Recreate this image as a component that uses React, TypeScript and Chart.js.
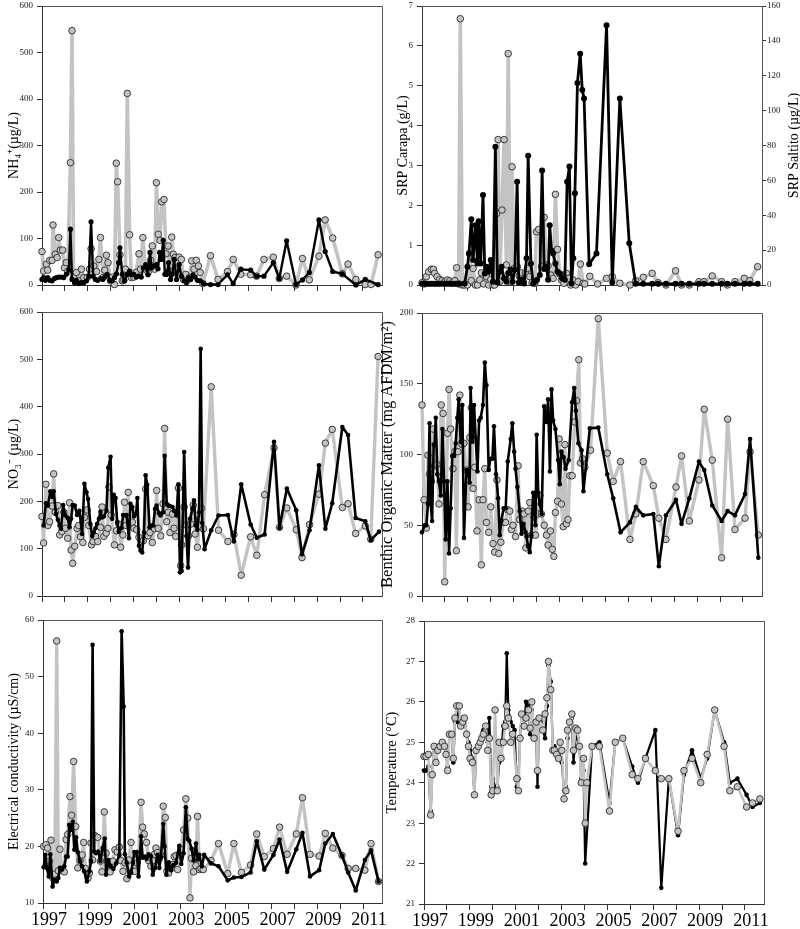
import React, { useEffect, useRef } from "react";
import { Chart, registerables } from "chart.js";
Chart.register(...registerables);

const FONT = "'Liberation Serif', 'Times New Roman', serif";

// ---------- axis ticks ----------
const yearTicks = [1997, 1998, 1999, 2000, 2001, 2002, 2003, 2004, 2005, 2006, 2007, 2008, 2009, 2010, 2011];
const xMin = 1997;
const xMax = 2011.83;
const nh4Ticks = [0, 100, 200, 300, 400, 500, 600];
const srpCarapaTicks = [0, 1, 2, 3, 4, 5, 6, 7];
const srpSaltitoTicks = [0, 20, 40, 60, 80, 100, 120, 140, 160];
const no3Ticks = [0, 100, 200, 300, 400, 500, 600];
const bomTicks = [0, 50, 100, 150, 200];
const ecTicks = [10, 20, 30, 40, 50, 60];
const tempTicks = [21, 22, 23, 24, 25, 26, 27, 28];

// ---------- data: [decimal year, value] ----------
const nh4Gray = [[1997.00,72],[1997.07,30],[1997.19,45],[1997.25,32],[1997.34,53],[1997.44,53],[1997.48,129],[1997.58,66],[1997.66,59],[1997.73,102],[1997.80,75],[1997.90,75],[1997.98,37],[1998.06,48],[1998.12,29],[1998.24,263],[1998.31,547],[1998.38,16],[1998.50,27],[1998.60,9],[1998.72,34],[1998.82,16],[1998.97,16],[1999.07,34],[1999.14,78],[1999.26,41],[1999.38,29],[1999.48,55],[1999.55,102],[1999.65,16],[1999.74,32],[1999.81,64],[1999.88,48],[1999.99,9],[2000.08,17],[2000.16,1],[2000.24,262],[2000.30,222],[2000.40,65],[2000.50,9],[2000.57,10],[2000.64,34],[2000.72,412],[2000.82,108],[2000.90,16],[2001.00,17],[2001.10,27],[2001.23,67],[2001.30,34],[2001.40,102],[2001.52,34],[2001.63,27],[2001.74,53],[2001.81,84],[2001.91,34],[2001.99,220],[2002.07,109],[2002.15,96],[2002.22,179],[2002.32,184],[2002.41,67],[2002.50,84],[2002.58,29],[2002.66,103],[2002.73,66],[2002.80,59],[2002.87,32],[2002.98,60],[2003.08,55],[2003.17,12],[2003.27,23],[2003.34,10],[2003.44,16],[2003.53,52],[2003.63,34],[2003.73,53],[2003.82,41],[2003.90,27],[2004.02,3],[2004.35,63],[2004.68,12],[2005.09,29],[2005.34,55],[2005.67,23],[2006.10,22],[2006.36,19],[2006.68,55],[2007.09,60],[2007.35,14],[2007.67,19],[2008.08,0],[2008.36,57],[2008.66,11],[2009.08,62],[2009.35,140],[2009.68,101],[2010.10,24],[2010.35,45],[2010.69,12],[2011.10,1],[2011.35,1],[2011.66,65]];
const nh4Black = [[1997.00,12],[1997.07,16],[1997.15,10],[1997.25,16],[1997.34,10],[1997.44,9],[1997.54,14],[1997.63,16],[1997.73,17],[1997.83,17],[1997.95,16],[1998.06,23],[1998.17,32],[1998.24,120],[1998.31,12],[1998.42,5],[1998.50,10],[1998.60,3],[1998.70,5],[1998.82,5],[1998.94,9],[1999.04,19],[1999.14,136],[1999.23,19],[1999.33,12],[1999.43,10],[1999.55,14],[1999.65,12],[1999.74,17],[1999.84,23],[1999.96,10],[2000.06,9],[2000.16,16],[2000.25,24],[2000.34,48],[2000.40,80],[2000.50,23],[2000.60,9],[2000.72,23],[2000.82,30],[2000.91,22],[2001.01,23],[2001.11,17],[2001.23,19],[2001.33,17],[2001.42,37],[2001.52,44],[2001.62,22],[2001.71,70],[2001.78,37],[2001.88,41],[2001.99,44],[2002.06,35],[2002.13,70],[2002.20,55],[2002.29,96],[2002.36,23],[2002.44,23],[2002.52,48],[2002.61,12],[2002.68,23],[2002.76,55],[2002.87,12],[2002.98,44],[2003.08,19],[2003.20,9],[2003.30,5],[2003.39,16],[2003.49,12],[2003.59,22],[2003.68,17],[2003.78,10],[2003.90,9],[2004.04,3],[2004.35,1],[2004.68,1],[2005.09,22],[2005.34,3],[2005.67,34],[2006.10,32],[2006.36,19],[2006.68,19],[2007.09,48],[2007.35,14],[2007.67,95],[2008.08,1],[2008.36,11],[2008.66,27],[2009.08,140],[2009.35,72],[2009.68,29],[2010.10,24],[2010.69,0],[2011.10,12],[2011.66,1]];

const srpCarapaBlack = [[1997.00,0.03],[1997.10,0.03],[1997.20,0.03],[1997.30,0.03],[1997.40,0.03],[1997.50,0.03],[1997.60,0.03],[1997.70,0.03],[1997.80,0.03],[1997.90,0.03],[1998.00,0.03],[1998.10,0.03],[1998.20,0.03],[1998.30,0.03],[1998.40,0.03],[1998.50,0.03],[1998.62,0.03],[1998.86,0.04],[1998.98,0.46],[1999.05,0.79],[1999.15,1.65],[1999.23,0.63],[1999.33,1.5],[1999.42,0.54],[1999.47,1.6],[1999.56,0.54],[1999.66,2.26],[1999.74,0.29],[1999.81,0.46],[1999.91,0.33],[2000.00,0.63],[2000.10,0.08],[2000.20,3.47],[2000.29,0.06],[2000.39,0.33],[2000.47,0.46],[2000.58,0.17],[2000.68,0.08],[2000.76,0.3],[2000.86,0.38],[2000.95,0.08],[2001.05,0.38],[2001.15,2.59],[2001.22,0.06],[2001.34,0.13],[2001.45,0.04],[2001.56,0.67],[2001.63,3.24],[2001.75,0.54],[2001.85,0.04],[2001.92,0.08],[2002.02,0.13],[2002.14,0.25],[2002.24,2.87],[2002.33,0.4],[2002.43,0.46],[2002.50,0.13],[2002.57,1.5],[2002.65,0.86],[2002.72,0.79],[2002.82,0.54],[2002.91,0.33],[2003.01,0.29],[2003.11,0.17],[2003.23,0.13],[2003.33,2.59],[2003.43,2.97],[2003.52,0.04],[2003.60,0.67],[2003.67,2.3],[2003.78,5.07],[2003.90,5.8],[2003.99,4.89],[2004.07,4.68],[2004.29,0.52],[2004.61,0.79],[2005.05,6.52],[2005.30,0.06],[2005.63,4.68],[2006.04,1.05],[2006.32,0.03],[2006.65,0.03],[2007.04,0.03],[2007.30,0.03],[2007.64,0.03],[2008.06,0.03],[2008.32,0.03],[2008.66,0.03],[2009.08,0.03],[2009.30,0.03],[2009.66,0.03],[2010.07,0.03],[2010.32,0.03],[2010.65,0.03],[2011.06,0.03],[2011.30,0.03],[2011.64,0.03]];
const srpSaltitoGray = [[1997.00,1.3],[1997.09,0.6],[1997.19,4.8],[1997.29,7.6],[1997.41,9],[1997.50,9],[1997.55,6.7],[1997.66,4.8],[1997.77,3.2],[1997.87,2.5],[1997.99,1.9],[1998.11,2.9],[1998.21,2.3],[1998.32,1.3],[1998.43,2.5],[1998.51,9.9],[1998.60,0.6],[1998.67,152.7],[1998.76,0],[1998.86,0],[1998.98,0],[1999.08,18],[1999.15,2.5],[1999.23,9.5],[1999.33,0],[1999.42,0],[1999.52,2.9],[1999.59,7],[1999.69,0.6],[1999.81,4.8],[1999.91,0],[2000.00,3.2],[2000.10,0],[2000.17,0],[2000.25,41],[2000.32,83.4],[2000.39,1.9],[2000.49,43],[2000.58,83.4],[2000.68,11.5],[2000.76,132.7],[2000.86,1.9],[2000.93,67.8],[2001.02,9.5],[2001.16,10.5],[2001.24,5.2],[2001.34,7],[2001.42,1.9],[2001.51,6.7],[2001.60,9.5],[2001.70,4.8],[2001.80,1.3],[2001.92,1],[2001.99,30.5],[2002.09,31.9],[2002.21,10.5],[2002.33,38.8],[2002.43,11.5],[2002.50,11],[2002.62,5.7],[2002.72,3.8],[2002.82,52],[2002.91,20.4],[2003.01,6.3],[2003.08,2.9],[2003.19,1],[2003.30,6.7],[2003.40,3.8],[2003.49,0],[2003.59,2.9],[2003.70,0],[2003.81,1.9],[2003.91,12],[2004.03,1],[2004.10,0.6],[2004.32,5],[2004.66,0.6],[2005.05,3.8],[2005.30,4.8],[2005.63,1],[2006.07,0],[2006.32,2.5],[2006.65,4.4],[2007.04,6.7],[2007.30,1.3],[2007.64,0],[2008.06,8.2],[2008.32,0],[2008.66,0],[2009.08,1.9],[2009.30,1.9],[2009.66,5.2],[2010.07,1.9],[2010.32,0],[2010.65,1.9],[2011.06,3.8],[2011.30,2.5],[2011.64,10.5]];

const no3Gray = [[1997.00,168],[1997.07,112],[1997.17,236],[1997.26,149],[1997.33,157],[1997.44,190],[1997.51,258],[1997.58,177],[1997.69,191],[1997.77,129],[1997.87,136],[1997.95,177],[1998.02,143],[1998.12,122],[1998.20,197],[1998.27,97],[1998.34,69],[1998.43,105],[1998.53,143],[1998.60,149],[1998.68,125],[1998.78,113],[1998.85,166],[1998.97,182],[1999.04,149],[1999.16,108],[1999.23,115],[1999.33,126],[1999.43,115],[1999.55,145],[1999.62,188],[1999.70,126],[1999.80,133],[1999.87,143],[1999.92,230],[2000.02,171],[2000.16,108],[2000.25,138],[2000.35,152],[2000.43,103],[2000.53,129],[2000.60,198],[2000.67,149],[2000.76,219],[2000.83,152],[2000.94,156],[2001.01,143],[2001.13,140],[2001.23,124],[2001.33,115],[2001.42,117],[2001.52,226],[2001.63,127],[2001.71,134],[2001.81,113],[2001.91,142],[2002.00,223],[2002.07,143],[2002.18,127],[2002.28,195],[2002.35,354],[2002.44,157],[2002.51,177],[2002.58,134],[2002.69,173],[2002.76,143],[2002.83,126],[2002.95,228],[2003.05,64],[2003.09,108],[2003.20,188],[2003.30,150],[2003.39,127],[2003.49,152],[2003.60,192],[2003.68,131],[2003.78,103],[2003.88,163],[2003.95,185],[2004.04,142],[2004.38,442],[2004.70,139],[2005.11,115],[2005.37,130],[2005.69,44],[2006.10,125],[2006.37,86],[2006.71,214],[2007.12,313],[2007.36,145],[2007.68,186],[2008.09,140],[2008.34,81],[2008.67,151],[2009.08,215],[2009.36,323],[2009.66,352],[2010.10,187],[2010.35,195],[2010.68,132],[2011.10,148],[2011.34,120],[2011.66,506]];
const no3Black = [[1997.07,149],[1997.17,196],[1997.26,191],[1997.36,221],[1997.44,209],[1997.51,221],[1997.61,173],[1997.69,161],[1997.77,149],[1997.83,142],[1997.92,192],[1998.02,170],[1998.12,165],[1998.20,145],[1998.27,163],[1998.34,192],[1998.43,191],[1998.53,171],[1998.63,180],[1998.75,131],[1998.85,237],[1998.94,219],[1999.01,205],[1999.11,152],[1999.19,127],[1999.26,134],[1999.33,143],[1999.40,152],[1999.48,163],[1999.55,178],[1999.62,166],[1999.70,168],[1999.81,180],[1999.89,271],[1999.99,294],[2000.06,163],[2000.13,214],[2000.21,207],[2000.28,156],[2000.35,136],[2000.46,143],[2000.54,171],[2000.62,170],[2000.69,171],[2000.79,122],[2000.86,195],[2000.94,188],[2001.01,168],[2001.10,173],[2001.16,207],[2001.23,106],[2001.30,96],[2001.37,92],[2001.45,134],[2001.52,255],[2001.59,235],[2001.69,145],[2001.77,149],[2001.85,149],[2001.93,184],[2002.00,191],[2002.10,175],[2002.17,170],[2002.28,177],[2002.35,296],[2002.44,195],[2002.51,191],[2002.58,190],[2002.69,188],[2002.76,180],[2002.87,170],[2002.95,236],[2003.02,50],[2003.09,53],[2003.20,304],[2003.30,127],[2003.37,60],[2003.46,163],[2003.56,184],[2003.63,202],[2003.71,149],[2003.78,140],[2003.85,177],[2003.92,522],[2003.99,154],[2004.09,99],[2004.38,139],[2004.70,170],[2005.11,171],[2005.37,115],[2005.69,236],[2006.10,151],[2006.37,123],[2006.71,130],[2007.12,326],[2007.36,144],[2007.68,227],[2008.09,181],[2008.34,88],[2008.67,139],[2009.08,276],[2009.36,142],[2009.66,196],[2010.10,357],[2010.35,340],[2010.68,165],[2011.10,158],[2011.34,118],[2011.70,136]];

const bomGray = [[1997.00,135],[1997.09,68],[1997.19,48],[1997.26,99.5],[1997.33,86],[1997.41,81],[1997.48,118],[1997.55,92],[1997.65,93],[1997.74,65],[1997.84,135],[1997.92,129],[1997.99,10],[1998.11,115],[1998.18,146],[1998.25,118],[1998.35,90],[1998.43,102],[1998.50,32],[1998.57,102],[1998.65,142],[1998.75,107],[1998.83,108],[1998.94,89],[1999.01,63],[1999.08,112],[1999.15,133],[1999.23,76],[1999.30,91],[1999.40,46],[1999.49,68],[1999.59,22],[1999.66,68],[1999.74,90],[1999.81,52],[1999.91,45],[2000.00,63],[2000.10,37],[2000.17,31],[2000.27,82],[2000.35,30],[2000.44,38],[2000.54,52],[2000.64,52],[2000.73,61],[2000.83,60],[2000.90,47],[2000.97,50],[2001.08,42],[2001.19,92],[2001.26,54],[2001.37,60],[2001.45,58],[2001.53,34],[2001.63,60],[2001.70,66],[2001.77,43],[2001.88,56],[2001.95,43],[2002.04,58],[2002.14,71],[2002.21,58],[2002.33,50],[2002.43,43],[2002.50,36],[2002.60,46],[2002.68,33],[2002.75,28],[2002.82,59],[2002.91,67],[2002.98,111],[2003.08,65],[2003.16,49],[2003.23,107],[2003.30,51],[2003.37,54],[2003.45,85],[2003.55,85],[2003.66,123],[2003.74,138],[2003.84,167],[2003.91,94],[2004.00,97],[2004.10,91],[2004.35,103],[2004.69,196],[2005.08,101],[2005.34,81],[2005.66,95],[2006.07,40],[2006.33,58],[2006.65,95],[2007.09,78],[2007.33,55],[2007.64,40],[2008.08,77],[2008.32,99],[2008.66,53],[2009.08,82],[2009.31,132],[2009.66,96],[2010.07,27],[2010.33,125],[2010.65,47],[2011.09,55],[2011.31,102],[2011.67,43]];
const bomBlack = [[1997.00,45],[1997.12,50],[1997.19,50],[1997.26,65],[1997.33,122],[1997.38,65],[1997.44,53],[1997.51,107],[1997.55,107],[1997.60,126],[1997.67,86],[1997.74,81],[1997.82,71],[1997.89,118],[1997.96,81],[1998.03,40],[1998.11,81],[1998.18,30],[1998.25,62],[1998.32,99],[1998.40,99],[1998.47,108],[1998.54,126],[1998.60,139],[1998.69,109],[1998.76,135],[1998.83,41],[1998.94,89],[1999.01,89],[1999.08,80],[1999.12,147],[1999.20,109],[1999.27,135],[1999.34,112],[1999.42,88],[1999.49,124],[1999.56,126],[1999.66,135],[1999.74,165],[1999.81,149],[1999.91,89],[1999.98,97],[2000.07,97],[2000.14,120],[2000.23,86],[2000.32,69],[2000.39,43],[2000.46,53],[2000.56,62],[2000.65,62],[2000.74,95],[2000.87,111],[2000.94,122],[2001.02,102],[2001.08,90],[2001.16,77],[2001.26,60],[2001.34,44],[2001.43,51],[2001.52,45],[2001.56,42],[2001.63,35],[2001.70,31],[2001.77,43],[2001.85,73],[2001.95,50],[2002.00,114],[2002.07,73],[2002.14,65],[2002.22,58],[2002.33,134],[2002.43,123],[2002.50,139],[2002.58,88],[2002.65,146],[2002.72,124],[2002.82,118],[2002.94,96],[2003.01,79],[2003.08,102],[2003.18,98],[2003.26,90],[2003.40,96],[2003.55,137],[2003.64,147],[2003.71,131],[2003.82,108],[2003.96,103],[2004.04,74],[2004.32,118.6],[2004.69,119],[2005.08,86],[2005.34,69],[2005.66,45],[2006.07,52],[2006.33,63],[2006.65,57],[2007.09,58],[2007.33,21],[2007.64,57],[2008.08,68],[2008.32,51],[2008.66,69],[2009.08,95],[2009.31,89],[2009.66,64],[2010.07,53],[2010.33,60],[2010.65,57],[2011.09,72],[2011.31,111],[2011.67,27]];

const ecGray = [[1997.03,20],[1997.13,20.3],[1997.20,19.7],[1997.28,17.4],[1997.35,21.1],[1997.42,14.5],[1997.52,15.1],[1997.60,56.3],[1997.67,15.7],[1997.74,19.5],[1997.83,15.9],[1997.93,15.5],[1998.01,21.2],[1998.08,22.1],[1998.18,28.8],[1998.25,25.5],[1998.34,35],[1998.43,23.5],[1998.52,16.2],[1998.62,17.5],[1998.71,18.5],[1998.78,20.7],[1998.85,16.1],[1998.97,14.4],[1999.03,15.3],[1999.10,20.6],[1999.17,17.6],[1999.27,21.9],[1999.39,21.6],[1999.51,17.4],[1999.58,15.5],[1999.68,26.1],[1999.76,18.8],[1999.86,17.2],[1999.94,15.5],[2000.05,17.4],[2000.15,19.4],[2000.25,19.0],[2000.34,19.9],[2000.41,17.5],[2000.50,15.6],[2000.59,17.1],[2000.67,14.3],[2000.75,17.6],[2000.85,20.7],[2000.92,15.6],[2001.02,15.6],[2001.11,17.1],[2001.18,18.4],[2001.29,27.8],[2001.36,23.4],[2001.43,22.2],[2001.53,20.7],[2001.62,17.5],[2001.72,16.5],[2001.80,17.5],[2001.87,18.6],[2001.94,19.7],[2002.01,18.9],[2002.09,17.8],[2002.16,18.4],[2002.26,27.1],[2002.35,25.1],[2002.42,15.6],[2002.50,15.3],[2002.60,16.1],[2002.67,16.8],[2002.74,18.2],[2002.82,18.4],[2002.89,15.9],[2002.96,18.6],[2003.03,19.4],[2003.15,22.9],[2003.25,28.4],[2003.33,25],[2003.43,10.9],[2003.50,17.9],[2003.59,15.5],[2003.69,16.6],[2003.76,25.3],[2003.84,15.9],[2003.91,16.1],[2004.01,15.9],[2004.35,17.5],[2004.68,20.5],[2005.08,15.2],[2005.35,20.5],[2005.68,15.4],[2006.08,16.7],[2006.35,22.2],[2006.68,18.2],[2007.08,19.6],[2007.35,23.4],[2007.68,18.6],[2008.08,22.2],[2008.35,28.6],[2008.68,18.6],[2009.08,18.3],[2009.35,22.3],[2009.68,19.7],[2010.08,18.4],[2010.35,16.1],[2010.68,16.1],[2011.08,15.8],[2011.35,20.5],[2011.68,13.8]];
const ecBlack = [[1997.03,16.3],[1997.10,18.5],[1997.17,16.2],[1997.25,14.7],[1997.32,18.6],[1997.42,12.9],[1997.50,14.1],[1997.60,13.8],[1997.67,14.4],[1997.74,16.2],[1997.83,15.9],[1997.93,16.5],[1998.01,18.2],[1998.08,18.2],[1998.15,23.8],[1998.22,22.9],[1998.30,24.4],[1998.37,19.4],[1998.45,21.6],[1998.52,19.0],[1998.62,17.4],[1998.71,16.5],[1998.80,15.6],[1998.92,13.8],[1999.03,15.6],[1999.10,17.4],[1999.17,55.6],[1999.24,19.1],[1999.32,18.8],[1999.42,19.1],[1999.51,17.4],[1999.61,19.7],[1999.70,21.4],[1999.76,15.0],[1999.86,17.6],[1999.96,16.5],[2000.08,16.0],[2000.20,17.0],[2000.34,18.5],[2000.44,58],[2000.53,44.7],[2000.58,18.6],[2000.66,17.1],[2000.77,14.7],[2000.85,15.4],[2000.93,17.1],[2001.00,19.0],[2001.10,19.0],[2001.18,14.7],[2001.29,21.8],[2001.36,18.0],[2001.45,18.2],[2001.53,17.8],[2001.62,18.6],[2001.72,18.3],[2001.80,15.0],[2001.90,16.2],[2002.01,18.5],[2002.09,16.2],[2002.16,18.2],[2002.26,24.0],[2002.32,20.0],[2002.40,15.0],[2002.50,17.2],[2002.60,15.8],[2002.70,16.7],[2002.82,17.1],[2002.96,20.1],[2003.05,16.9],[2003.15,18.8],[2003.25,26.9],[2003.33,21.3],[2003.40,21.0],[2003.50,19.6],[2003.59,17.5],[2003.69,20.5],[2003.76,17.7],[2003.84,18.5],[2003.95,16.5],[2004.05,18.5],[2004.35,17.0],[2004.68,16.5],[2005.08,14.0],[2005.35,14.5],[2005.68,14.6],[2006.08,15.4],[2006.35,20.9],[2006.68,15.9],[2007.08,18.5],[2007.35,21.2],[2007.68,15.5],[2008.08,19.5],[2008.35,22.4],[2008.68,14.7],[2009.08,15.8],[2009.35,20.5],[2009.68,22.2],[2010.08,18.4],[2010.35,15.4],[2010.68,12.2],[2011.08,17.6],[2011.35,19.3],[2011.68,13.8]];

const tempGray = [[1997.00,24.65],[1997.09,24.65],[1997.19,24.7],[1997.29,23.2],[1997.36,24.2],[1997.44,24.9],[1997.52,24.5],[1997.60,24.8],[1997.70,24.9],[1997.80,25.0],[1997.89,24.9],[1997.96,24.7],[1998.03,24.3],[1998.11,25.2],[1998.21,25.2],[1998.28,24.6],[1998.35,25.6],[1998.43,25.9],[1998.54,25.9],[1998.60,25.4],[1998.69,25.5],[1998.76,25.6],[1998.86,25.2],[1998.94,24.9],[1999.01,24.6],[1999.11,24.5],[1999.20,23.7],[1999.27,24.8],[1999.37,24.9],[1999.45,25.0],[1999.52,25.1],[1999.59,25.2],[1999.69,25.4],[1999.78,24.8],[1999.85,25.1],[1999.93,23.7],[2000.00,23.8],[2000.10,25.8],[2000.20,23.8],[2000.28,25.0],[2000.36,24.6],[2000.46,25.0],[2000.54,25.4],[2000.61,25.9],[2000.68,25.6],[2000.78,25.0],[2000.87,25.2],[2001.05,24.1],[2001.12,23.8],[2001.19,25.1],[2001.26,25.7],[2001.37,25.4],[2001.45,25.6],[2001.56,25.8],[2001.63,25.35],[2001.70,26.0],[2001.80,25.1],[2001.89,25.5],[2001.95,24.3],[2002.02,25.6],[2002.18,25.3],[2002.28,25.7],[2002.36,26.1],[2002.43,27.0],[2002.53,26.3],[2002.62,24.8],[2002.69,24.8],[2002.79,24.7],[2002.87,24.6],[2002.94,25.0],[2003.01,24.8],[2003.11,23.6],[2003.19,23.8],[2003.26,25.3],[2003.35,25.5],[2003.45,25.7],[2003.52,24.8],[2003.62,25.35],[2003.70,25.3],[2003.78,24.9],[2003.86,24.0],[2003.96,24.6],[2004.03,23.0],[2004.10,24.0],[2004.33,24.9],[2004.65,24.9],[2005.09,23.3],[2005.34,25.0],[2005.67,25.1],[2006.08,24.2],[2006.33,24.1],[2006.66,24.6],[2007.09,24.3],[2007.35,24.1],[2007.68,24.1],[2008.08,22.8],[2008.34,24.3],[2008.69,24.6],[2009.07,24.0],[2009.35,24.7],[2009.68,25.8],[2010.09,24.9],[2010.34,23.8],[2010.67,23.9],[2011.07,23.4],[2011.33,23.5],[2011.65,23.6]];
const tempBlack = [[1997.00,24.3],[1997.09,24.3],[1997.19,24.4],[1997.29,23.3],[1997.36,24.2],[1997.44,24.9],[1997.52,24.6],[1997.60,24.8],[1997.70,24.9],[1997.80,25.0],[1997.89,24.9],[1997.96,24.7],[1998.03,24.4],[1998.11,25.2],[1998.21,25.2],[1998.28,24.5],[1998.35,25.5],[1998.43,25.5],[1998.54,25.9],[1998.60,25.4],[1998.69,25.5],[1998.76,25.6],[1998.86,25.2],[1998.94,25.0],[1999.01,24.8],[1999.11,24.6],[1999.20,23.7],[1999.27,24.8],[1999.37,24.9],[1999.45,25.0],[1999.52,25.1],[1999.59,25.3],[1999.69,25.3],[1999.78,25.0],[1999.85,25.6],[1999.93,23.9],[2000.00,24.1],[2000.10,23.9],[2000.20,23.9],[2000.28,24.5],[2000.36,24.7],[2000.46,25.4],[2000.54,25.5],[2000.61,27.2],[2000.68,25.8],[2000.78,25.5],[2000.87,25.4],[2000.95,25.3],[2001.05,23.9],[2001.12,24.1],[2001.19,25.1],[2001.26,25.7],[2001.37,25.4],[2001.45,26.0],[2001.56,25.9],[2001.63,25.2],[2001.70,25.8],[2001.80,25.3],[2001.89,25.4],[2001.95,23.9],[2002.02,25.6],[2002.10,25.5],[2002.18,25.3],[2002.28,25.1],[2002.36,25.9],[2002.43,26.9],[2002.53,26.5],[2002.62,24.8],[2002.69,24.9],[2002.79,24.7],[2002.87,24.6],[2002.94,24.8],[2003.01,24.5],[2003.11,23.8],[2003.19,23.9],[2003.26,25.1],[2003.35,25.5],[2003.45,25.6],[2003.52,24.5],[2003.62,25.15],[2003.70,25.1],[2003.78,24.9],[2003.86,24.1],[2003.96,24.3],[2004.03,22.0],[2004.33,24.9],[2004.65,25.0],[2005.09,23.5],[2005.34,25.0],[2005.67,25.1],[2006.08,24.4],[2006.33,24.0],[2006.66,24.6],[2007.09,25.3],[2007.35,21.4],[2007.68,24.1],[2008.08,22.7],[2008.34,24.2],[2008.69,24.8],[2009.07,24.1],[2009.35,24.6],[2009.68,25.8],[2010.09,25.0],[2010.34,24.0],[2010.67,24.1],[2011.07,23.7],[2011.33,23.4],[2011.65,23.5]];

// ---------- panel layout ----------
type Pt = number[];
interface PanelCfg {
  key: string;
  left: number; top: number; width: number; height: number;
  padTop: number; padRight: number; yWidth: number; xHeight: number;
  yTicks: number[]; yTitle: string; titleSize: number; titlePad: number;
  black: Pt[]; gray: Pt[];
  grayOnTop: boolean; showYears: boolean;
  y2Ticks?: number[]; y2Title?: string; y2Width?: number;
  grayLine: number; blackLine: number; grayRadius: number; blackRadius: number;
}

const panels: PanelCfg[] = [
  { key: "nh4", left: 0, top: 0, width: 400, height: 300, padTop: 6, padRight: 18, yWidth: 42, xHeight: 15,
    yTicks: nh4Ticks, yTitle: "NH\u2084\u207A(\u00B5g/L)", titleSize: 14, titlePad: 6,
    black: nh4Black, gray: nh4Gray, grayOnTop: false, showYears: false,
    grayLine: 3.6, blackLine: 2.4, grayRadius: 3.3, blackRadius: 2.6 },
  { key: "srp", left: 378, top: 0, width: 422, height: 300, padTop: 6, padRight: 0, yWidth: 44, xHeight: 15,
    yTicks: srpCarapaTicks, yTitle: "SRP Carapa (g/L)", titleSize: 14, titlePad: 17,
    black: srpCarapaBlack, gray: srpSaltitoGray, grayOnTop: false, showYears: false,
    y2Ticks: srpSaltitoTicks, y2Title: "SRP Saltito (\u00B5g/L)", y2Width: 38,
    grayLine: 3.6, blackLine: 2.8, grayRadius: 3.3, blackRadius: 3.0 },
  { key: "no3", left: 0, top: 300, width: 400, height: 310, padTop: 12, padRight: 18, yWidth: 42, xHeight: 14,
    yTicks: no3Ticks, yTitle: "NO\u2083\u207B (\u00B5g/L)", titleSize: 14, titlePad: 6,
    black: no3Black, gray: no3Gray, grayOnTop: false, showYears: false,
    grayLine: 3.4, blackLine: 2.6, grayRadius: 3.3, blackRadius: 2.3 },
  { key: "bom", left: 378, top: 300, width: 422, height: 310, padTop: 13, padRight: 38, yWidth: 44, xHeight: 14,
    yTicks: bomTicks, yTitle: "Benthic Organic Matter (mg AFDM/m\u00B2)", titleSize: 16.5, titlePad: 0,
    black: bomBlack, gray: bomGray, grayOnTop: false, showYears: false,
    grayLine: 3.4, blackLine: 2.6, grayRadius: 3.3, blackRadius: 2.3 },
  { key: "ec", left: 0, top: 610, width: 400, height: 319, padTop: 10, padRight: 18, yWidth: 43, xHeight: 26,
    yTicks: ecTicks, yTitle: "Electrical conductivity (\u00B5S/cm)", titleSize: 14, titlePad: 6,
    black: ecBlack, gray: ecGray, grayOnTop: false, showYears: true,
    grayLine: 3.4, blackLine: 2.6, grayRadius: 3.3, blackRadius: 2.3 },
  { key: "temp", left: 378, top: 610, width: 422, height: 319, padTop: 11, padRight: 36, yWidth: 46, xHeight: 25,
    yTicks: tempTicks, yTitle: "Temperature (\u00B0C)", titleSize: 14.5, titlePad: 5,
    black: tempBlack, gray: tempGray, grayOnTop: true, showYears: true,
    grayLine: 2.6, blackLine: 2.2, grayRadius: 3.3, blackRadius: 2.3 },
];

const framePlugin = {
  id: "frame",
  afterDraw(chart: any) {
    const { ctx, chartArea } = chart;
    const l = Math.round(chartArea.left - 0.5) + 0.5;
    const r = Math.round(chartArea.right - 0.5) + 0.5;
    const t = Math.round(chartArea.top - 0.5) + 0.5;
    const b = Math.round(chartArea.bottom - 0.5) + 0.5;
    ctx.save();
    ctx.strokeStyle = "#555";
    ctx.lineWidth = 1;
    ctx.beginPath();
    ctx.moveTo(l, t);
    ctx.lineTo(r, t);
    ctx.lineTo(r, b);
    ctx.stroke();
    ctx.restore();
  },
};

function buildChart(canvas: HTMLCanvasElement, p: PanelCfg) {
  const fixTicks = (vals: number[]) => (axis: any) => {
    axis.ticks = vals.map((v) => ({ value: v }));
  };
  const toXY = (s: Pt[]) => s.map((d) => ({ x: d[0], y: d[1] }));

  const scales: any = {
    x: {
      type: "linear", position: "bottom", min: xMin, max: xMax, bounds: "data",
      afterBuildTicks: fixTicks(yearTicks),
      ticks: {
        autoSkip: false, maxRotation: 0, minRotation: 0, labelOffset: 6, padding: 0,
        color: "#000", font: { family: FONT, size: 18 },
        callback: (v: any) => {
          const yr = Math.round(Number(v));
          return p.showYears && yr % 2 === 1 ? String(yr) : "";
        },
      },
      grid: { drawOnChartArea: false, drawTicks: true, tickLength: 6, color: "#333", lineWidth: 1 },
      border: { display: true, color: "#333", width: 1 },
      afterFit: (s: any) => { s.height = p.xHeight; s.paddingLeft = 0; s.paddingRight = 0; },
    },
    y: {
      type: "linear", position: "left", bounds: "data",
      min: p.yTicks[0], max: p.yTicks[p.yTicks.length - 1],
      afterBuildTicks: fixTicks(p.yTicks),
      ticks: { padding: 4, color: "#222", font: { family: FONT, size: 9 } },
      grid: { drawOnChartArea: false, drawTicks: true, tickLength: 5, color: "#333" },
      border: { display: true, color: "#333", width: 1 },
      title: {
        display: true, text: p.yTitle, color: "#000",
        font: { family: FONT, size: p.titleSize }, padding: { top: p.titlePad, bottom: 0 },
      },
      afterFit: (s: any) => { s.width = p.yWidth; s.paddingTop = 0; s.paddingBottom = 0; },
    },
  };
  if (p.y2Ticks) {
    const t2 = p.y2Ticks;
    scales.y2 = {
      type: "linear", position: "right", bounds: "data", min: t2[0], max: t2[t2.length - 1],
      afterBuildTicks: fixTicks(t2),
      ticks: { padding: 1, color: "#222", font: { family: FONT, size: 9 } },
      grid: { drawOnChartArea: false, drawTicks: true, tickLength: 4, color: "#333" },
      border: { display: true, color: "#333", width: 1 },
      afterFit: (s: any) => { s.width = p.y2Width; s.paddingTop = 0; s.paddingBottom = 0; },
    };
  }

  const y2TitlePlugin = {
    id: "y2title",
    afterDraw(chart: any) {
      if (!p.y2Title) return;
      const { ctx, chartArea, width } = chart;
      ctx.save();
      ctx.translate(width - 6, (chartArea.top + chartArea.bottom) / 2);
      ctx.rotate(-Math.PI / 2);
      ctx.font = `14px ${FONT}`;
      ctx.fillStyle = "#000";
      ctx.textAlign = "center";
      ctx.textBaseline = "middle";
      ctx.fillText(p.y2Title, 0, 0);
      ctx.restore();
    },
  };

  const grayDs: any = {
    label: "gray", data: toXY(p.gray), yAxisID: p.y2Ticks ? "y2" : "y",
    borderColor: "#c3c3c3", borderWidth: p.grayLine, borderJoinStyle: "round",
    pointRadius: p.grayRadius, pointBackgroundColor: "#c3c3c3", pointBorderColor: "#2b2b2b",
    pointBorderWidth: 0.9, pointHoverRadius: p.grayRadius, tension: 0, clip: false,
    order: p.grayOnTop ? 1 : 2,
  };
  const blackDs: any = {
    label: "black", data: toXY(p.black), yAxisID: "y",
    borderColor: "#000", borderWidth: p.blackLine, borderJoinStyle: "round",
    pointRadius: p.blackRadius, pointBackgroundColor: "#000", pointBorderColor: "#000",
    pointBorderWidth: 0, pointHoverRadius: p.blackRadius, tension: 0, clip: false,
    order: p.grayOnTop ? 2 : 1,
  };

  return new Chart(canvas, {
    type: "line",
    data: { datasets: [blackDs, grayDs] },
    options: {
      animation: false,
      responsive: false,
      devicePixelRatio: 1,
      events: [],
      layout: { padding: { left: 0, top: p.padTop, right: p.padRight, bottom: 0 } },
      plugins: { legend: { display: false }, tooltip: { enabled: false } },
      scales,
    },
    plugins: [framePlugin, y2TitlePlugin],
  } as any);
}

function Panel({ cfg }: { cfg: PanelCfg }) {
  const ref = useRef<HTMLCanvasElement | null>(null);
  useEffect(() => {
    if (!ref.current) return;
    const chart = buildChart(ref.current, cfg);
    return () => chart.destroy();
  }, [cfg]);
  return (
    <canvas
      ref={ref}
      width={cfg.width}
      height={cfg.height}
      style={{ position: "absolute", left: cfg.left, top: cfg.top, width: cfg.width, height: cfg.height }}
    />
  );
}

export default function App() {
  return (
    <div style={{ position: "absolute", left: 0, top: 0, width: 800, height: 929, background: "#fff", overflow: "hidden" }}>
      {panels.map((p) => (
        <Panel key={p.key} cfg={p} />
      ))}
    </div>
  );
}
